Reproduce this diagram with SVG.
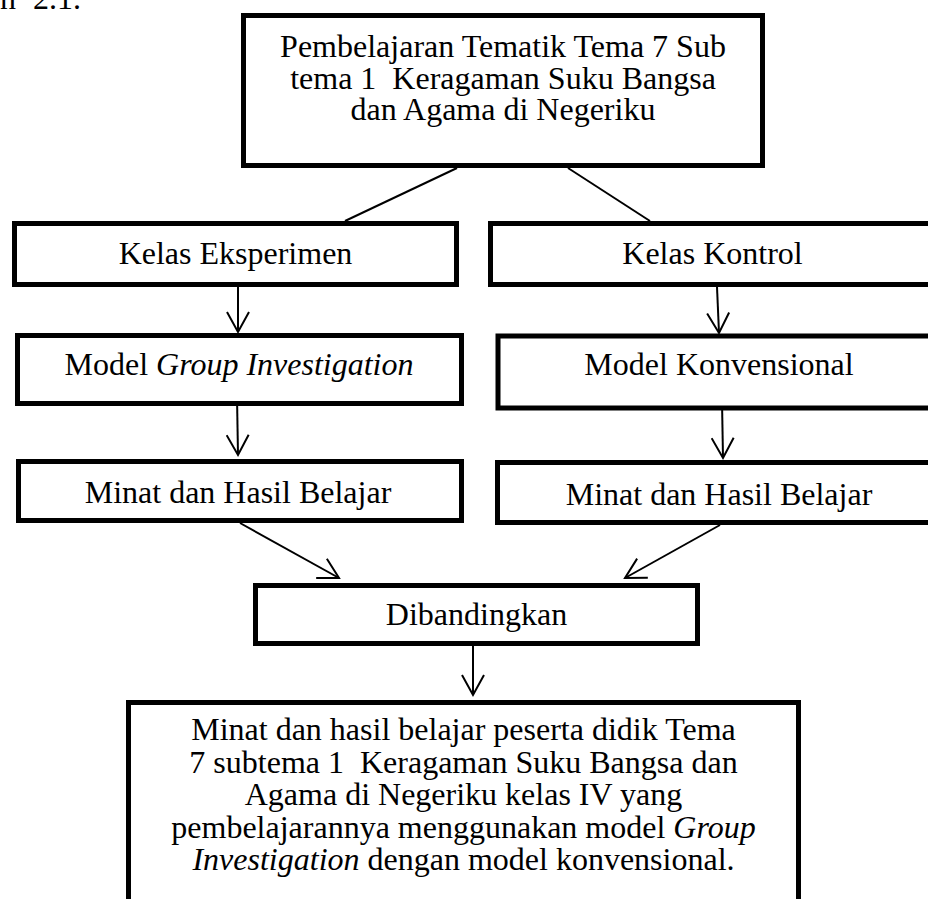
<svg xmlns="http://www.w3.org/2000/svg" width="928" height="899" viewBox="0 0 928 899">
<style>
.box{fill:#fff;stroke:#000;stroke-width:5}
.t{font-family:"Liberation Serif","Times New Roman",serif;font-size:32px;fill:#000;text-anchor:middle}
.tl{font-family:"Liberation Serif","Times New Roman",serif;font-size:32px;fill:#000}
.i{font-style:italic}
.c{stroke:#000;stroke-width:2;fill:none}
.a{marker-end:url(#ah)}
</style>
<defs>
<marker id="ah" viewBox="0 0 24 24" markerWidth="24" markerHeight="24" refX="21" refY="12" orient="auto" markerUnits="userSpaceOnUse">
<path d="M1,1 L21,12 L1,23" fill="none" stroke="#000" stroke-width="2"/>
</marker>
</defs>
<rect width="928" height="899" fill="#fff"/>
<text class="tl" y="9"><tspan x="0">n</tspan><tspan x="33">2.1.</tspan></text>

<g id="connectors">
<line class="c" x1="457" y1="168" x2="345" y2="221"/>
<line class="c" x1="568" y1="168" x2="650" y2="221"/>
<line class="c a" x1="238" y1="287" x2="238" y2="332"/>
<line class="c a" x1="717" y1="287" x2="719" y2="333"/>
<line class="c a" x1="237" y1="397" x2="238" y2="455"/>
<line class="c a" x1="722" y1="401" x2="723" y2="458"/>
<line class="c a" x1="240" y1="523" x2="339" y2="578"/>
<line class="c a" x1="720" y1="525" x2="625" y2="578"/>
<line class="c a" x1="473" y1="640" x2="473" y2="695"/>
</g>

<g id="top">
<rect class="box" x="243.5" y="15.5" width="519" height="150"/>
<text class="t" xml:space="preserve"><tspan x="503" y="57">Pembelajaran Tematik Tema 7 Sub</tspan><tspan x="503" y="88.5">tema 1  Keragaman Suku Bangsa</tspan><tspan x="503" y="120">dan Agama di Negeriku</tspan></text>
</g>

<g id="kelas-eksperimen">
<rect class="box" x="14.5" y="223.5" width="442" height="61"/>
<text class="t" x="235.5" y="264">Kelas Eksperimen</text>
</g>

<g id="kelas-kontrol">
<rect class="box" x="490.5" y="223.5" width="443" height="61"/>
<text class="t" x="712.5" y="264">Kelas Kontrol</text>
</g>

<g id="model-gi">
<rect class="box" x="17.5" y="335.5" width="444" height="68"/>
<text class="t" x="239" y="375">Model <tspan class="i">Group Investigation</tspan></text>
</g>

<g id="model-konvensional">
<rect class="box" x="498" y="336" width="440" height="72"/>
<text class="t" x="719" y="375">Model Konvensional</text>
</g>

<g id="minat-kiri">
<rect class="box" x="18.5" y="461.5" width="443" height="59"/>
<text class="t" x="238" y="503">Minat dan Hasil Belajar</text>
</g>

<g id="minat-kanan">
<rect class="box" x="497.5" y="462.5" width="440" height="60"/>
<text class="t" x="719" y="505">Minat dan Hasil Belajar</text>
</g>

<g id="dibandingkan">
<rect class="box" x="255.5" y="585.5" width="442" height="58"/>
<text class="t" x="476.5" y="625">Dibandingkan</text>
</g>

<g id="kesimpulan">
<rect class="box" x="128.5" y="702.5" width="670" height="230"/>
<text class="t" xml:space="preserve"><tspan x="463.5" y="740">Minat dan hasil belajar peserta didik Tema</tspan><tspan x="463.5" y="772.5">7 subtema 1  Keragaman Suku Bangsa dan</tspan><tspan x="463.5" y="805">Agama di Negeriku kelas IV yang</tspan><tspan x="463.5" y="837.5">pembelajarannya menggunakan model <tspan class="i">Group</tspan></tspan><tspan x="463.5" y="870"><tspan class="i">Investigation</tspan> dengan model konvensional.</tspan></text>
</g>
</svg>
